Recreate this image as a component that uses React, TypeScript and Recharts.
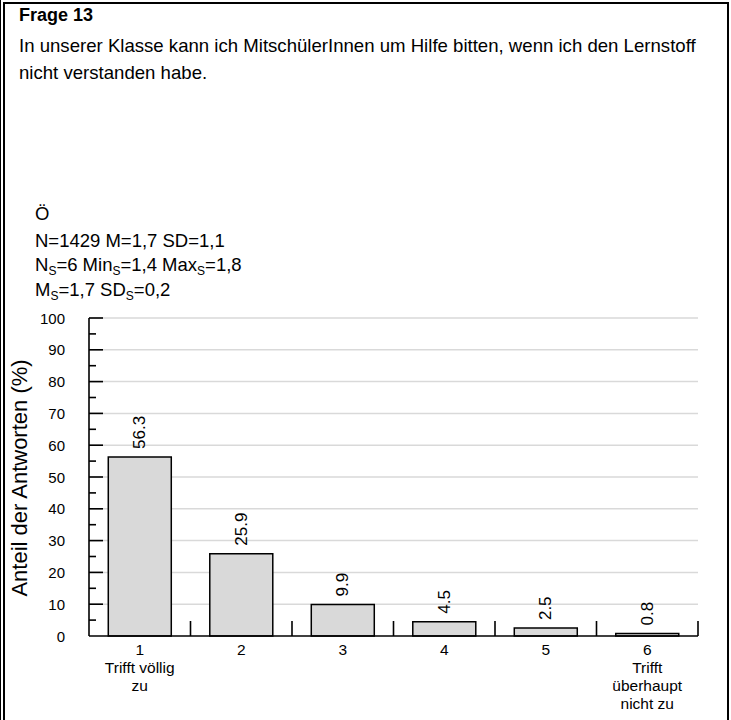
import React from 'react'
import { BarChart, Bar, XAxis, YAxis, CartesianGrid, LabelList } from 'recharts'

const FONT = 'Arial, "Liberation Sans", Helvetica, sans-serif'

// answer categories 1..6 with their verbal anchors
const categories = ['1', '2', '3', '4', '5', '6']
const categoryNotes = [['Trifft völlig', 'zu'], [], [], [], [], ['Trifft', 'überhaupt', 'nicht zu']]
// share of answers in percent
const shares = [56.3, 25.9, 9.9, 4.5, 2.5, 0.8]
const yTicks = [0, 5, 10, 15, 20, 25, 30, 35, 40, 45, 50, 55, 60, 65, 70, 75, 80, 85, 90, 95, 100]
const gridValues = [10, 20, 30, 40, 50, 60, 70, 80, 90, 100]

const data = categories.map((cat, i) => ({ cat, share: shares[i] }))

function YTick(props: any) {
  const { x, y, payload } = props
  const v = payload.value
  const major = v % 10 === 0
  return (
    <g>
      {v !== 0 && (
        <line x1={x} x2={x + (major ? 14 : 7)} y1={y} y2={y} stroke="#000" strokeWidth={1.6} />
      )}
      {major && (
        <text x={x - 24} y={y} textAnchor="end" dominantBaseline="central" fontSize={15} fontFamily={FONT} fill="#000">
          {v}
        </text>
      )}
    </g>
  )
}

function XTick(props: any) {
  const { x, y, payload } = props
  const half = payload && payload.offset ? payload.offset : 50.75
  const idx = categories.indexOf(String(payload.value))
  const notes = idx >= 0 ? categoryNotes[idx] : []
  return (
    <g>
      <line x1={x + half} x2={x + half} y1={y} y2={y - 15} stroke="#000" strokeWidth={1.6} />
      <text x={x} y={y + 19} textAnchor="middle" fontSize={15.5} fontFamily={FONT} fill="#000">
        {payload.value}
      </text>
      {notes.map((n, i) => (
        <text key={i} x={x} y={y + 37 + i * 18} textAnchor="middle" fontSize={15.5} fontFamily={FONT} fill="#000">
          {n}
        </text>
      ))}
    </g>
  )
}

function BarValue(props: any) {
  const vb = props.viewBox && props.viewBox.width !== undefined ? props.viewBox : props
  const cx = vb.x + vb.width / 2
  const ty = vb.y - 8
  return (
    <text
      x={cx}
      y={ty}
      transform={`rotate(-90 ${cx} ${ty})`}
      textAnchor="start"
      dominantBaseline="central"
      fontSize={17}
      fontFamily={FONT}
      fill="#000"
    >
      {Number(props.value).toFixed(1)}
    </text>
  )
}

export default function App() {
  return (
    <div style={{ position: 'absolute', left: 0, top: 0, width: 731, height: 720, background: '#fff', overflow: 'hidden', fontFamily: FONT }}>
      {/* frame */}
      <div style={{ position: 'absolute', left: 0, top: 0, width: 1, height: 720, background: '#000' }} />
      <div style={{ position: 'absolute', left: 3, top: 2, width: 722, height: 740, borderLeft: '2px solid #000', borderTop: '2px solid #000', borderRight: '2px solid #000' }} />

      <div style={{ position: 'absolute', left: 0, top: 0 }}>
        <BarChart width={731} height={720} data={data} margin={{ top: 318, right: 33, left: 29, bottom: 24 }} barCategoryGap="19%">
          <CartesianGrid vertical={false} horizontalValues={gridValues} stroke="#d9d9d9" strokeWidth={1.5} />
          <XAxis
            dataKey="cat"
            height={60}
            tickSize={0}
            tickMargin={0}
            tickLine={false}
            axisLine={{ stroke: '#000', strokeWidth: 1.6 }}
            tick={<XTick />}
            interval={0}
          />
          <YAxis
            width={60}
            domain={[0, 100]}
            ticks={yTicks}
            interval={0}
            tickSize={0}
            tickMargin={0}
            tickLine={false}
            axisLine={{ stroke: '#000', strokeWidth: 1.6 }}
            tick={<YTick />}
          />
          <Bar dataKey="share" fill="#d9d9d9" stroke="#000" strokeWidth={1.5} isAnimationActive={false}>
            <LabelList dataKey="share" content={<BarValue />} />
          </Bar>
        </BarChart>
      </div>

      <svg width={731} height={720} style={{ position: 'absolute', left: 0, top: 0, pointerEvents: 'none' }} fontFamily={FONT}>
        <text x={19} y={21} fontSize={18} fontWeight="bold">Frage 13</text>
        <text x={19} y={52} fontSize={18.6}>In unserer Klasse kann ich MitschülerInnen um Hilfe bitten, wenn ich den Lernstoff</text>
        <text x={19} y={79} fontSize={18.6}>nicht verstanden habe.</text>

        <text x={35} y={220} fontSize={18.5}>Ö</text>
        <text x={35} y={247} fontSize={18.5}>N=1429 M=1,7 SD=1,1</text>
        <text x={35} y={271} fontSize={18.5}>
          N<tspan fontSize={12} dy={4}>S</tspan>
          <tspan dy={-4}>=6 Min</tspan>
          <tspan fontSize={12} dy={4}>S</tspan>
          <tspan dy={-4}>=1,4 Max</tspan>
          <tspan fontSize={12} dy={4}>S</tspan>
          <tspan dy={-4}>=1,8</tspan>
        </text>
        <text x={35} y={296} fontSize={18.5}>
          M<tspan fontSize={12} dy={4}>S</tspan>
          <tspan dy={-4}>=1,7 SD</tspan>
          <tspan fontSize={12} dy={4}>S</tspan>
          <tspan dy={-4}>=0,2</tspan>
        </text>

        <text x={27} y={478} transform="rotate(-90 27 478)" textAnchor="middle" fontSize={22}>
          Anteil der Antworten (%)
        </text>
      </svg>
    </div>
  )
}
